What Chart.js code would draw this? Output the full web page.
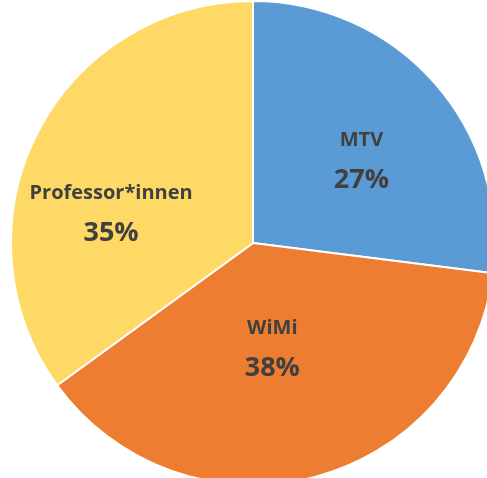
<!DOCTYPE html>
<html>
<head>
<meta charset="utf-8">
<script src="https://cdn.jsdelivr.net/npm/chart.js@4"></script>
<style>
  html, body { margin: 0; padding: 0; background: #fff; }
  #wrap { position: relative; width: 487px; height: 478px; overflow: hidden; }
  #chart { position: absolute; left: 10px; top: 0px; }
</style>
</head>
<body>
<div id="wrap"><canvas id="chart" width="486" height="486"></canvas></div>
<script>
// data
const labels = ['MTV', 'WiMi', 'Professor*innen'];
const values = [27, 38, 35];
const colors = ['#5B9BD5', '#ED7D31', '#FFD966'];
// label offsets from slice centroid (px)
const labelShift = [[5, 9], [-15, -28], [-19, 33]];

const sliceLabels = {
  id: 'sliceLabels',
  afterDatasetsDraw(chart) {
    const ctx = chart.ctx;
    const meta = chart.getDatasetMeta(0);
    ctx.save();
    ctx.fillStyle = '#404040';
    ctx.textAlign = 'center';
    ctx.textBaseline = 'middle';
    meta.data.forEach((arc, i) => {
      const mid = (arc.startAngle + arc.endAngle) / 2;
      const r = arc.outerRadius * 0.57;
      const x = arc.x + Math.cos(mid) * r + labelShift[i][0];
      const y = arc.y + Math.sin(mid) * r + labelShift[i][1];
      ctx.font = "bold 20px 'Open Sans', sans-serif";
      ctx.fillText(labels[i], x, y - 20);
      ctx.font = "bold 27px 'Open Sans', sans-serif";
      ctx.fillText(values[i] + '%', x, y + 20);
    });
    ctx.restore();
  }
};

new Chart(document.getElementById('chart'), {
  type: 'pie',
  data: {
    labels,
    datasets: [{
      data: values,
      backgroundColor: colors,
      borderColor: '#fff',
      borderWidth: 2
    }]
  },
  options: {
    responsive: false,
    animation: false,
    layout: { padding: 0 },
    plugins: { legend: { display: false }, tooltip: { enabled: false } }
  },
  plugins: [sliceLabels]
});
</script>
</body>
</html>
